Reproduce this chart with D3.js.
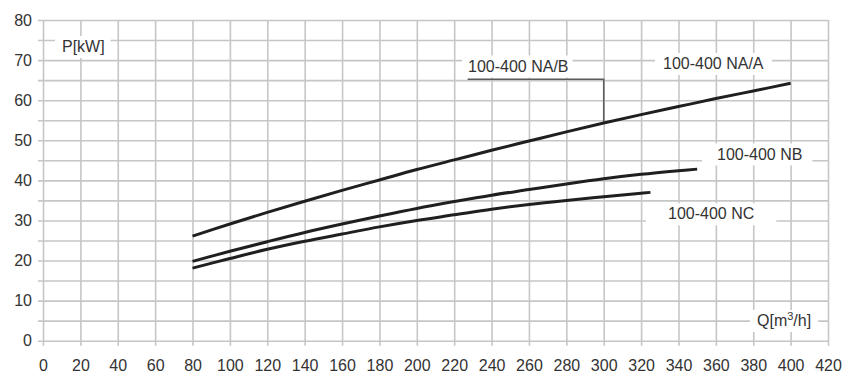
<!DOCTYPE html>
<html>
<head>
<meta charset="utf-8">
<script src="https://cdn.jsdelivr.net/npm/d3@7/dist/d3.min.js"></script>
<style>
  html, body { margin: 0; padding: 0; background: #fff; }
  svg { display: block; font-family: Arial, "Liberation Sans", sans-serif; }
</style>
</head>
<body>
<svg id="chart" width="844" height="373"></svg>
<script>
// ---- data ----
const xTicks = [0,20,40,60,80,100,120,140,160,180,200,220,240,260,280,300,320,340,360,380,400,420];
const yTicks = [0,10,20,30,40,50,60,70,80];
const yMinor = [5,15,25,35,45,55,65,75];

const qNAA = [80,100,120,140,160,180,200,220,240,260,280,300,320,340,360,380,400];
const pNAA = [26.1,29.1,32.0,34.8,37.5,40.1,42.7,45.1,47.5,49.8,52.1,54.3,56.4,58.4,60.4,62.3,64.2];

const qNB = [80,100,120,140,160,180,200,220,240,260,280,300,320,340,350];
const pNB = [19.8,22.3,24.7,27.0,29.1,31.1,33.0,34.7,36.3,37.7,39.1,40.4,41.5,42.4,42.8];

const qNC = [80,100,120,140,160,180,200,220,240,260,280,300,320,325];
const pNC = [18.1,20.5,22.8,24.8,26.6,28.4,30.0,31.4,32.8,34.0,35.0,35.9,36.8,37.0];

const seriesNames = ["100-400 NA/A", "100-400 NB", "100-400 NC"];
const yTitle = "P[kW]";

// ---- layout ----
const svg = d3.select("#chart");
const x = d3.scaleLinear().domain([0, 420]).range([43, 828]);
const y = d3.scaleLinear().domain([0, 80]).range([340.7, 20]);
const gridColor = "#c6c6c6";
const textColor = "#333";

// horizontal grid (major + minor) via left axis
const allY = yTicks.concat(yMinor).sort((a,b)=>a-b);
const yAxis = d3.axisLeft(y)
  .tickValues(allY)
  .tickSize(-(x(420) - x(0) + 5))
  .tickPadding(6)
  .tickFormat(d => yTicks.includes(d) ? d : "");
const gy = svg.append("g").attr("transform", `translate(${x(0) - 5},0)`).call(yAxis);
gy.select(".domain").remove();
gy.selectAll(".tick line").attr("stroke", gridColor).attr("stroke-width", 1.6);
gy.selectAll(".tick text").attr("fill", textColor).style("font-size", "16px")
  .style("font-family", "Arial, 'Liberation Sans', sans-serif");

// vertical grid via bottom axis
const xAxis = d3.axisBottom(x)
  .tickValues(xTicks)
  .tickSize(-(y(0) + 5 - y(80)))
  .tickPadding(14)
  .tickFormat(d => d);
const gx = svg.append("g").attr("transform", `translate(0,${y(0) + 5})`).call(xAxis);
gx.select(".domain").remove();
gx.selectAll(".tick line").attr("stroke", gridColor).attr("stroke-width", 1.6);
gx.selectAll(".tick text").attr("fill", textColor).style("font-size", "16px")
  .style("font-family", "Arial, 'Liberation Sans', sans-serif");

// label helper with white background box
function label(txt, px, py, padL, padR, sup) {
  const g = svg.append("g");
  const rect = g.append("rect").attr("fill", "#fff");
  const t = g.append("text").attr("x", px).attr("y", py)
    .attr("fill", textColor).style("font-size", "16px");
  if (sup) {
    t.append("tspan").text(sup[0]);
    t.append("tspan").text(sup[1]).attr("dy", -6).style("font-size", "11px");
    t.append("tspan").text(sup[2]).attr("dy", 6);
  } else {
    t.text(txt);
  }
  const bb = t.node().getBBox();
  rect.attr("x", bb.x - padL).attr("y", py - 16).attr("width", bb.width + padL + padR).attr("height", 22);
  return g;
}

// curves
const line = d3.line().x(d => x(d[0])).y(d => y(d[1])).curve(d3.curveCatmullRom.alpha(0.5));
const series = [
  d3.zip(qNAA, pNAA),
  d3.zip(qNB, pNB),
  d3.zip(qNC, pNC)
];

// labels (under curves)
label(yTitle, 62, 52, 7, 6);
label(seriesNames[0], 663, 69, 8, 8);
label("100-400 NA/B", 468, 71.5, 6, 4);
label(seriesNames[1], 717, 159.5, 15, 10);
label(seriesNames[2], 668, 219.3, 22, 22);
label(null, 757, 326, 7, 7, ["Q[m", "3", "/h]"]);

// leader line for NA/B
const leadQ0 = 227.2, leadQ1 = 300, leadP = 65.2;
const pAt300 = pNAA[qNAA.indexOf(300)];
svg.append("path")
  .attr("d", d3.line()([[x(leadQ0), y(leadP)], [x(leadQ1), y(leadP)], [x(leadQ1), y(pAt300)]]))
  .attr("fill", "none").attr("stroke", "#5a5a5a").attr("stroke-width", 1.5);

svg.append("g").selectAll("path").data(series).join("path")
  .attr("d", line)
  .attr("fill", "none")
  .attr("stroke", "#1f1f1f")
  .attr("stroke-width", 3)
  .attr("stroke-linecap", "butt");
</script>
</body>
</html>
